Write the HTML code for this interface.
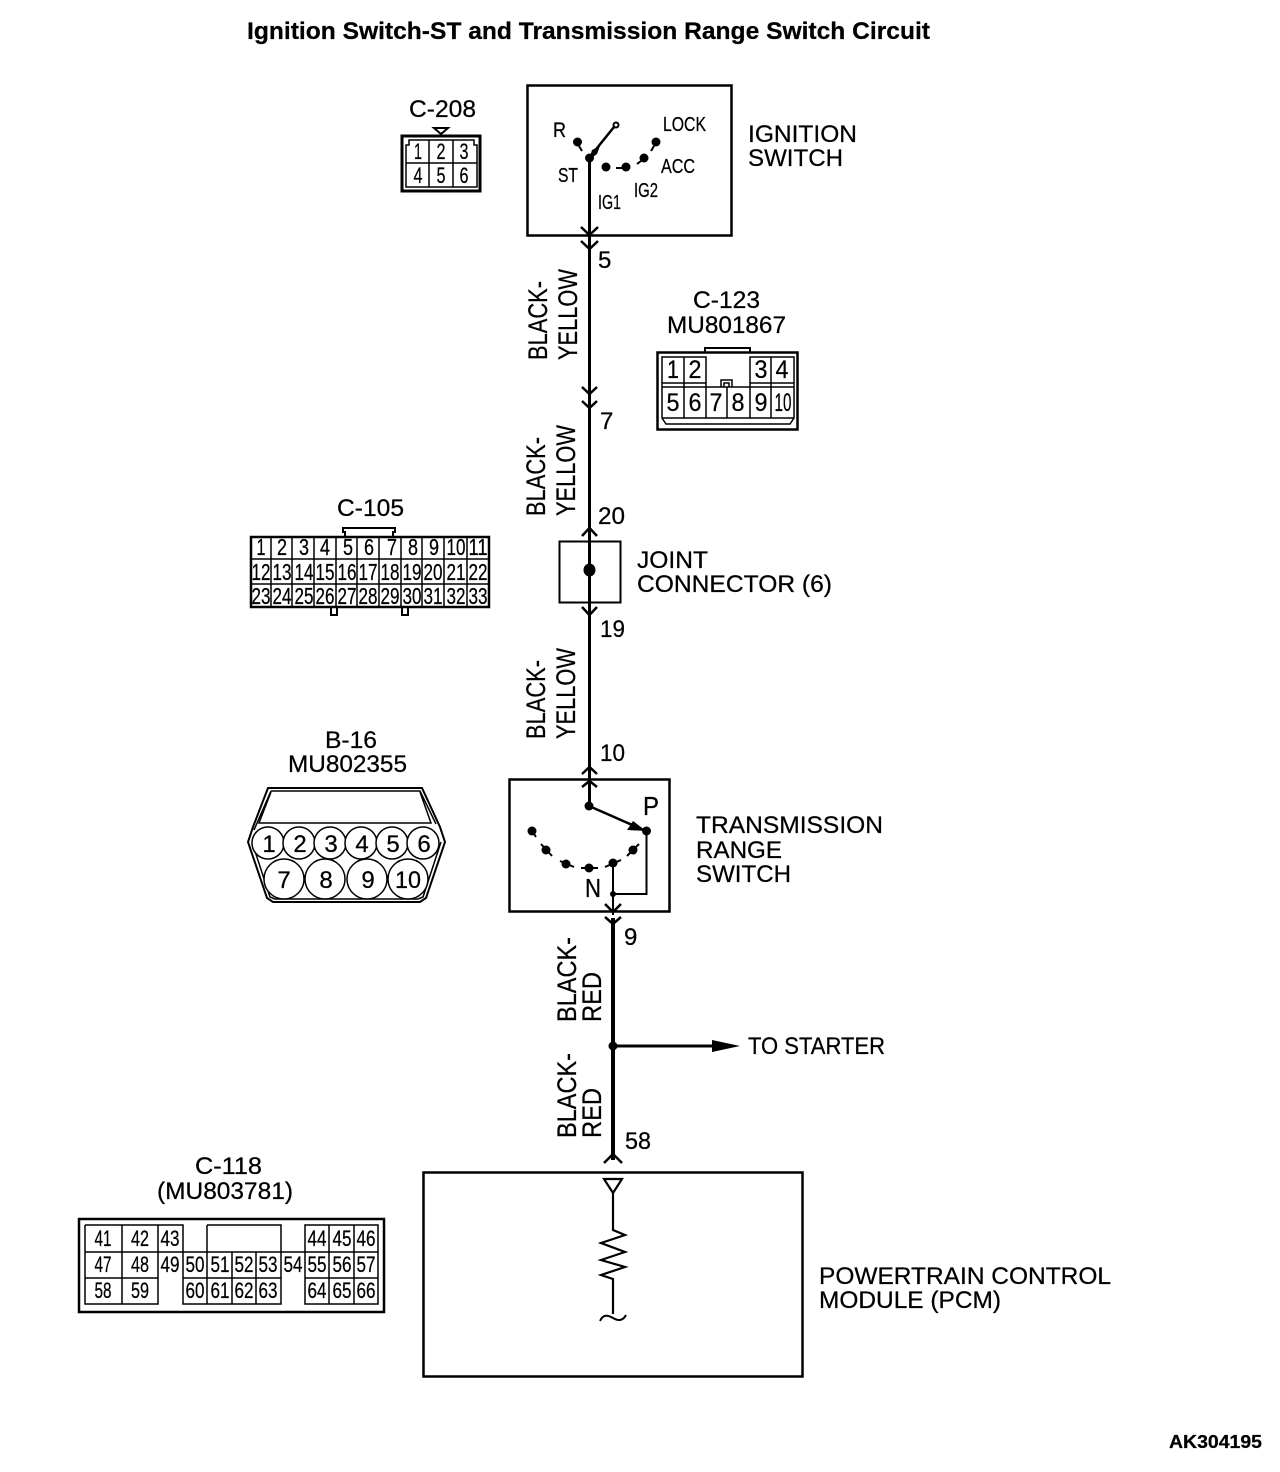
<!DOCTYPE html>
<html><head><meta charset="utf-8"><title>Ignition Switch-ST and Transmission Range Switch Circuit</title>
<style>
html,body{margin:0;padding:0;background:#fff}
svg{display:block}
text{font-family:"Liberation Sans",sans-serif;fill:#000;stroke:#000;stroke-width:.25px}
.l{font-size:24px}
.r{font-size:27px}
.s{font-size:20px}
.d{text-anchor:middle}
.n{fill:none;stroke:#000;stroke-width:2}
.c{fill:none;stroke:#000;stroke-width:2.5}
.b{fill:#000;stroke:none}
</style></head><body>
<svg width="1280" height="1472" viewBox="0 0 1280 1472" xmlns="http://www.w3.org/2000/svg">
<text x="247" y="39" font-size="24" font-weight="700" textLength="683" lengthAdjust="spacingAndGlyphs">Ignition Switch-ST and Transmission Range Switch Circuit</text>

<!-- C-208 -->
<text class="l" x="409" y="117" textLength="67" lengthAdjust="spacingAndGlyphs">C-208</text>
<path class="n" d="M434 128H448L441 134Z"/>
<rect x="402" y="136" width="78" height="55" class="n" style="stroke-width:3"/>
<path class="n" style="stroke-width:1.5" d="M406 145V187H477V145H474V140H409V145ZM429 140V187M453 140V187M406 163H477"/>
<g font-size="22">
<text class="d" x="418" y="159" textLength="8" lengthAdjust="spacingAndGlyphs">1</text>
<text class="d" x="441" y="159" textLength="9" lengthAdjust="spacingAndGlyphs">2</text>
<text class="d" x="464" y="159" textLength="9" lengthAdjust="spacingAndGlyphs">3</text>
<text class="d" x="418" y="183" textLength="9" lengthAdjust="spacingAndGlyphs">4</text>
<text class="d" x="441" y="183" textLength="9" lengthAdjust="spacingAndGlyphs">5</text>
<text class="d" x="464" y="183" textLength="9" lengthAdjust="spacingAndGlyphs">6</text>
</g>

<!-- Ignition switch -->
<rect x="527.5" y="85.5" width="204" height="150" class="n" style="stroke-width:2.5"/>
<path d="M589.5 158V770" stroke="#000" stroke-width="3" fill="none"/>
<path class="n" d="M589 158L614 127" style="stroke-width:2.5"/>
<circle cx="616" cy="125" r="2.5" fill="#fff" stroke="#000" stroke-width="2"/>
<path class="b" d="M592 150L600 146L597 154L589 160Z"/>
<circle class="b" cx="589.5" cy="158" r="4.5"/>
<circle class="b" cx="577.5" cy="142" r="4.5"/><path class="n" d="M579 146L582 151"/>
<circle class="b" cx="656" cy="142" r="4.5"/><path class="n" d="M654 146L651 151"/>
<circle class="b" cx="644" cy="158" r="4.5"/><path class="n" d="M641 161L637 164"/>
<circle class="b" cx="626" cy="167" r="4.5"/><path class="n" d="M616 168H622"/>
<circle class="b" cx="606" cy="167" r="4.5"/>
<text x="553" y="137" font-size="21" textLength="13" lengthAdjust="spacingAndGlyphs">R</text>
<text class="s" x="558" y="182" textLength="20" lengthAdjust="spacingAndGlyphs">ST</text>
<text class="s" x="663" y="131" textLength="43" lengthAdjust="spacingAndGlyphs">LOCK</text>
<text class="s" x="661" y="173" textLength="34" lengthAdjust="spacingAndGlyphs">ACC</text>
<text class="s" x="634" y="197" textLength="24" lengthAdjust="spacingAndGlyphs">IG2</text>
<text class="s" x="598" y="209" textLength="23" lengthAdjust="spacingAndGlyphs">IG1</text>
<text class="l" x="748" y="142" textLength="109" lengthAdjust="spacingAndGlyphs">IGNITION</text>
<text class="l" x="748" y="166" textLength="95" lengthAdjust="spacingAndGlyphs">SWITCH</text>
<path class="c" d="M581 227L589.5 235L598 227M581 241L589.5 249L598 241"/>
<text class="l" x="598" y="268">5</text>

<!-- Wire labels -->
<text class="r" transform="translate(547,360) rotate(-90)" textLength="79" lengthAdjust="spacingAndGlyphs">BLACK-</text>
<text class="r" transform="translate(577,360) rotate(-90)" textLength="91" lengthAdjust="spacingAndGlyphs">YELLOW</text>
<text class="r" transform="translate(545,516) rotate(-90)" textLength="79" lengthAdjust="spacingAndGlyphs">BLACK-</text>
<text class="r" transform="translate(575,516) rotate(-90)" textLength="91" lengthAdjust="spacingAndGlyphs">YELLOW</text>
<text class="r" transform="translate(545,739) rotate(-90)" textLength="79" lengthAdjust="spacingAndGlyphs">BLACK-</text>
<text class="r" transform="translate(575,739) rotate(-90)" textLength="91" lengthAdjust="spacingAndGlyphs">YELLOW</text>
<text class="r" transform="translate(576,1022) rotate(-90)" textLength="85" lengthAdjust="spacingAndGlyphs">BLACK-</text>
<text class="r" transform="translate(601,1022) rotate(-90)" textLength="50" lengthAdjust="spacingAndGlyphs">RED</text>
<text class="r" transform="translate(576,1138) rotate(-90)" textLength="85" lengthAdjust="spacingAndGlyphs">BLACK-</text>
<text class="r" transform="translate(601,1138) rotate(-90)" textLength="50" lengthAdjust="spacingAndGlyphs">RED</text>

<path class="c" d="M582 387L589.5 394L597 387M582 401L589.5 408L597 401"/>
<text class="l" x="600" y="429">7</text>
<text class="l" x="598" y="524" textLength="27" lengthAdjust="spacingAndGlyphs">20</text>

<!-- C-123 -->
<text class="l" x="693" y="308" textLength="67" lengthAdjust="spacingAndGlyphs">C-123</text>
<text class="l" x="667" y="333" textLength="119" lengthAdjust="spacingAndGlyphs">MU801867</text>
<rect x="657.5" y="352.5" width="140" height="77" class="n" style="stroke-width:2.5"/>
<path class="n" d="M705 352V348H750V352"/>
<path class="n" style="stroke-width:1.5" d="M662 357H706V383H662ZM684 357V418M750 357H794V383H750ZM771 357V418M662 383V418L666 424H790L794 418V383M662 387H794M706 383V418M727 387V418M750 383V418M662 418H794M721 387V380H732V387M724 387V383H729V387"/>
<g font-size="25">
<text class="d" x="673" y="378" textLength="12" lengthAdjust="spacingAndGlyphs">1</text>
<text class="d" x="695" y="378" textLength="13" lengthAdjust="spacingAndGlyphs">2</text>
<text class="d" x="761" y="378" textLength="13" lengthAdjust="spacingAndGlyphs">3</text>
<text class="d" x="782" y="378" textLength="13" lengthAdjust="spacingAndGlyphs">4</text>
<text class="d" x="673" y="411" textLength="13" lengthAdjust="spacingAndGlyphs">5</text>
<text class="d" x="695" y="411" textLength="13" lengthAdjust="spacingAndGlyphs">6</text>
<text class="d" x="716" y="411" textLength="13" lengthAdjust="spacingAndGlyphs">7</text>
<text class="d" x="738" y="411" textLength="13" lengthAdjust="spacingAndGlyphs">8</text>
<text class="d" x="761" y="411" textLength="13" lengthAdjust="spacingAndGlyphs">9</text>
<text class="d" x="783" y="411" textLength="17" lengthAdjust="spacingAndGlyphs">10</text>
</g>

<!-- Joint connector -->
<rect x="559.5" y="541.5" width="61" height="61" class="n"/>
<path class="c" d="M582 536L589.5 528L597 536M582 607L589.5 615L597 607"/>
<ellipse class="b" cx="589.5" cy="570" rx="6" ry="6.5"/>
<text class="l" x="637" y="568" textLength="71" lengthAdjust="spacingAndGlyphs">JOINT</text>
<text class="l" x="637" y="592" textLength="195" lengthAdjust="spacingAndGlyphs">CONNECTOR (6)</text>
<text class="l" x="600" y="637" textLength="25" lengthAdjust="spacingAndGlyphs">19</text>

<!-- C-105 -->
<text class="l" x="337" y="516" textLength="67" lengthAdjust="spacingAndGlyphs">C-105</text>
<rect x="251" y="537" width="238" height="70" class="n" style="stroke-width:2.5"/>
<path class="n" d="M345 536V532H343V528H395V532H393V536M331 608V615H337V608M402 608V615H408V608"/>
<path class="n" d="M271 537V607M292 537V607M314 537V607M336 537V607M357 537V607M379 537V607M401 537V607M422 537V607M444 537V607M467 537V607M251 559H489M251 584H489" style="stroke-width:1.5"/>
<g font-size="23">
<text class="d" x="261" y="555" textLength="9" lengthAdjust="spacingAndGlyphs">1</text>
<text class="d" x="282" y="555" textLength="10" lengthAdjust="spacingAndGlyphs">2</text>
<text class="d" x="304" y="555" textLength="10" lengthAdjust="spacingAndGlyphs">3</text>
<text class="d" x="325" y="555" textLength="10" lengthAdjust="spacingAndGlyphs">4</text>
<text class="d" x="348" y="555" textLength="10" lengthAdjust="spacingAndGlyphs">5</text>
<text class="d" x="369" y="555" textLength="10" lengthAdjust="spacingAndGlyphs">6</text>
<text class="d" x="392" y="555" textLength="10" lengthAdjust="spacingAndGlyphs">7</text>
<text class="d" x="413" y="555" textLength="10" lengthAdjust="spacingAndGlyphs">8</text>
<text class="d" x="434" y="555" textLength="10" lengthAdjust="spacingAndGlyphs">9</text>
<text class="d" x="456" y="555" textLength="19" lengthAdjust="spacingAndGlyphs">10</text>
<text class="d" x="478" y="555" textLength="19" lengthAdjust="spacingAndGlyphs">11</text>
<text class="d" x="261" y="580" textLength="19" lengthAdjust="spacingAndGlyphs">12</text>
<text class="d" x="282" y="580" textLength="19" lengthAdjust="spacingAndGlyphs">13</text>
<text class="d" x="304" y="580" textLength="19" lengthAdjust="spacingAndGlyphs">14</text>
<text class="d" x="325" y="580" textLength="19" lengthAdjust="spacingAndGlyphs">15</text>
<text class="d" x="347" y="580" textLength="19" lengthAdjust="spacingAndGlyphs">16</text>
<text class="d" x="368" y="580" textLength="19" lengthAdjust="spacingAndGlyphs">17</text>
<text class="d" x="390" y="580" textLength="19" lengthAdjust="spacingAndGlyphs">18</text>
<text class="d" x="412" y="580" textLength="19" lengthAdjust="spacingAndGlyphs">19</text>
<text class="d" x="433" y="580" textLength="19" lengthAdjust="spacingAndGlyphs">20</text>
<text class="d" x="456" y="580" textLength="19" lengthAdjust="spacingAndGlyphs">21</text>
<text class="d" x="478" y="580" textLength="19" lengthAdjust="spacingAndGlyphs">22</text>
<text class="d" x="261" y="604" textLength="19" lengthAdjust="spacingAndGlyphs">23</text>
<text class="d" x="282" y="604" textLength="19" lengthAdjust="spacingAndGlyphs">24</text>
<text class="d" x="304" y="604" textLength="19" lengthAdjust="spacingAndGlyphs">25</text>
<text class="d" x="325" y="604" textLength="19" lengthAdjust="spacingAndGlyphs">26</text>
<text class="d" x="347" y="604" textLength="19" lengthAdjust="spacingAndGlyphs">27</text>
<text class="d" x="368" y="604" textLength="19" lengthAdjust="spacingAndGlyphs">28</text>
<text class="d" x="390" y="604" textLength="19" lengthAdjust="spacingAndGlyphs">29</text>
<text class="d" x="412" y="604" textLength="19" lengthAdjust="spacingAndGlyphs">30</text>
<text class="d" x="433" y="604" textLength="19" lengthAdjust="spacingAndGlyphs">31</text>
<text class="d" x="456" y="604" textLength="19" lengthAdjust="spacingAndGlyphs">32</text>
<text class="d" x="478" y="604" textLength="19" lengthAdjust="spacingAndGlyphs">33</text>
</g>

<!-- B-16 -->
<text class="l" x="325" y="748" textLength="52" lengthAdjust="spacingAndGlyphs">B-16</text>
<text class="l" x="288" y="772" textLength="119" lengthAdjust="spacingAndGlyphs">MU802355</text>
<path class="n" d="M268 788H422L440 827L445 842L426 898L420 902H273L267 898L248 842L253 827Z"/>
<path class="n" style="stroke-width:1.5" d="M271 791H420L436 824M254 830L271 791M271 792L259 823H431L420 792M252 842L270 897L275 899H418L423 897L441 842"/>
<g fill="#fff" stroke="#000" stroke-width="1.5">
<circle cx="268" cy="843" r="16"/><circle cx="299" cy="843" r="16"/><circle cx="330" cy="843" r="16"/><circle cx="361" cy="843" r="16"/><circle cx="392" cy="843" r="16"/><circle cx="423" cy="843" r="16"/>
<circle cx="284" cy="879" r="20"/><circle cx="325" cy="879" r="20"/><circle cx="367" cy="879" r="20"/><circle cx="408" cy="879" r="20"/>
</g>
<g font-size="24">
<text class="d" x="269" y="852">1</text>
<text class="d" x="300" y="852">2</text>
<text class="d" x="331" y="852">3</text>
<text class="d" x="362" y="852">4</text>
<text class="d" x="393" y="852">5</text>
<text class="d" x="424" y="852">6</text>
<text class="d" x="284" y="888">7</text>
<text class="d" x="326" y="888">8</text>
<text class="d" x="368" y="888">9</text>
<text class="d" x="408" y="888" textLength="26" lengthAdjust="spacingAndGlyphs">10</text>
</g>

<!-- Transmission range switch -->
<text class="l" x="600" y="761" textLength="25" lengthAdjust="spacingAndGlyphs">10</text>
<rect x="509.5" y="779.5" width="160" height="132" class="n" style="stroke-width:2.5"/>
<path d="M589.5 770V806" stroke="#000" stroke-width="3" fill="none"/>
<path class="c" d="M582 774L589.5 767L597 774M582 787L589.5 781L597 787"/>
<path d="M589 806L646 831" stroke="#000" stroke-width="2.5" fill="none"/>
<path class="b" d="M633 821L646 831L627 830Z"/>
<circle class="b" cx="589" cy="806" r="4.5"/>
<circle class="b" cx="646.5" cy="831" r="4.5"/>
<circle class="b" cx="532" cy="831" r="4.5"/><path class="n" d="M534 834L536 837"/>
<circle class="b" cx="546" cy="850" r="4.5"/><path class="n" d="M541 844L552 856"/>
<circle class="b" cx="566" cy="864" r="4.5"/><path class="n" d="M560 861L574 867"/>
<circle class="b" cx="589" cy="868" r="4.5"/><path class="n" d="M581 868H598"/>
<circle class="b" cx="613" cy="863" r="4.5"/><path class="n" d="M605 867L621 860"/>
<circle class="b" cx="633" cy="850" r="4.5"/><path class="n" d="M627 856L639 844"/>
<path class="n" d="M646.5 831V894H613M613 863V915"/>
<circle class="b" cx="613" cy="894" r="3"/>
<text x="643" y="815" font-size="26" textLength="16" lengthAdjust="spacingAndGlyphs">P</text>
<text x="585" y="897" font-size="26" textLength="16" lengthAdjust="spacingAndGlyphs">N</text>
<text class="l" x="696" y="833" textLength="187" lengthAdjust="spacingAndGlyphs">TRANSMISSION</text>
<text class="l" x="696" y="858" textLength="86" lengthAdjust="spacingAndGlyphs">RANGE</text>
<text class="l" x="696" y="882" textLength="95" lengthAdjust="spacingAndGlyphs">SWITCH</text>
<path class="c" d="M605 904L613 912L621 904M605 917L613 924L621 917"/>
<text class="l" x="624" y="945">9</text>

<!-- Lower wire -->
<path d="M613 918V1160" stroke="#000" stroke-width="4" fill="none"/>
<circle class="b" cx="613" cy="1046" r="4.5"/>
<path d="M613 1046H716" stroke="#000" stroke-width="3" fill="none"/>
<path class="b" d="M712 1040L740 1046L712 1052Z"/>
<text class="l" x="748" y="1054" textLength="137" lengthAdjust="spacingAndGlyphs">TO STARTER</text>
<text class="l" x="625" y="1149" textLength="26" lengthAdjust="spacingAndGlyphs">58</text>
<path class="c" d="M604 1163L613 1154L622 1163"/>

<!-- PCM -->
<rect x="423.5" y="1172.5" width="379" height="204" class="n" style="stroke-width:2.5"/>
<path class="n" d="M604 1179H622L613 1193ZM613 1193V1230L625 1235L601 1243L625 1252L601 1260L625 1267L601 1275L613 1279V1314" style="stroke-width:2.2"/>
<path class="n" d="M600 1321C603 1314 608 1315 613 1318C618 1321 623 1321 626 1315"/>
<text class="l" x="819" y="1284" textLength="292" lengthAdjust="spacingAndGlyphs">POWERTRAIN CONTROL</text>
<text class="l" x="819" y="1308" textLength="182" lengthAdjust="spacingAndGlyphs">MODULE (PCM)</text>

<!-- C-118 -->
<text class="l" x="195" y="1174" textLength="67" lengthAdjust="spacingAndGlyphs">C-118</text>
<text class="l" x="157" y="1199" textLength="136" lengthAdjust="spacingAndGlyphs">(MU803781)</text>
<rect x="79" y="1219" width="305" height="93" class="n" style="stroke-width:2.5"/>
<path class="n" style="stroke-width:1.5" d="M85 1225H183V1252M85 1225V1304H158V1278M122 1225V1304M158 1225V1278M85 1252H378M85 1278H158M183 1252V1304H281V1252M207 1225V1304M232 1252V1304M256 1252V1304M207 1225H281V1252M183 1278H281M305 1225H378V1304H305ZM329 1225V1304M354 1225V1304M305 1278H378"/>
<g font-size="22">
<text class="d" x="103" y="1246" textLength="17" lengthAdjust="spacingAndGlyphs">41</text>
<text class="d" x="140" y="1246" textLength="18" lengthAdjust="spacingAndGlyphs">42</text>
<text class="d" x="170" y="1246" textLength="19" lengthAdjust="spacingAndGlyphs">43</text>
<text class="d" x="317" y="1246" textLength="19" lengthAdjust="spacingAndGlyphs">44</text>
<text class="d" x="342" y="1246" textLength="19" lengthAdjust="spacingAndGlyphs">45</text>
<text class="d" x="366" y="1246" textLength="19" lengthAdjust="spacingAndGlyphs">46</text>
<text class="d" x="103" y="1272" textLength="17" lengthAdjust="spacingAndGlyphs">47</text>
<text class="d" x="140" y="1272" textLength="18" lengthAdjust="spacingAndGlyphs">48</text>
<text class="d" x="170" y="1272" textLength="19" lengthAdjust="spacingAndGlyphs">49</text>
<text class="d" x="195" y="1272" textLength="19" lengthAdjust="spacingAndGlyphs">50</text>
<text class="d" x="220" y="1272" textLength="19" lengthAdjust="spacingAndGlyphs">51</text>
<text class="d" x="244" y="1272" textLength="19" lengthAdjust="spacingAndGlyphs">52</text>
<text class="d" x="268" y="1272" textLength="19" lengthAdjust="spacingAndGlyphs">53</text>
<text class="d" x="293" y="1272" textLength="19" lengthAdjust="spacingAndGlyphs">54</text>
<text class="d" x="317" y="1272" textLength="19" lengthAdjust="spacingAndGlyphs">55</text>
<text class="d" x="342" y="1272" textLength="19" lengthAdjust="spacingAndGlyphs">56</text>
<text class="d" x="366" y="1272" textLength="19" lengthAdjust="spacingAndGlyphs">57</text>
<text class="d" x="103" y="1298" textLength="17" lengthAdjust="spacingAndGlyphs">58</text>
<text class="d" x="140" y="1298" textLength="18" lengthAdjust="spacingAndGlyphs">59</text>
<text class="d" x="195" y="1298" textLength="19" lengthAdjust="spacingAndGlyphs">60</text>
<text class="d" x="220" y="1298" textLength="19" lengthAdjust="spacingAndGlyphs">61</text>
<text class="d" x="244" y="1298" textLength="19" lengthAdjust="spacingAndGlyphs">62</text>
<text class="d" x="268" y="1298" textLength="19" lengthAdjust="spacingAndGlyphs">63</text>
<text class="d" x="317" y="1298" textLength="19" lengthAdjust="spacingAndGlyphs">64</text>
<text class="d" x="342" y="1298" textLength="19" lengthAdjust="spacingAndGlyphs">65</text>
<text class="d" x="366" y="1298" textLength="19" lengthAdjust="spacingAndGlyphs">66</text>
</g>

<text x="1169" y="1448" font-size="18" font-weight="700" textLength="93" lengthAdjust="spacingAndGlyphs">AK304195</text>
</svg>
</body></html>
